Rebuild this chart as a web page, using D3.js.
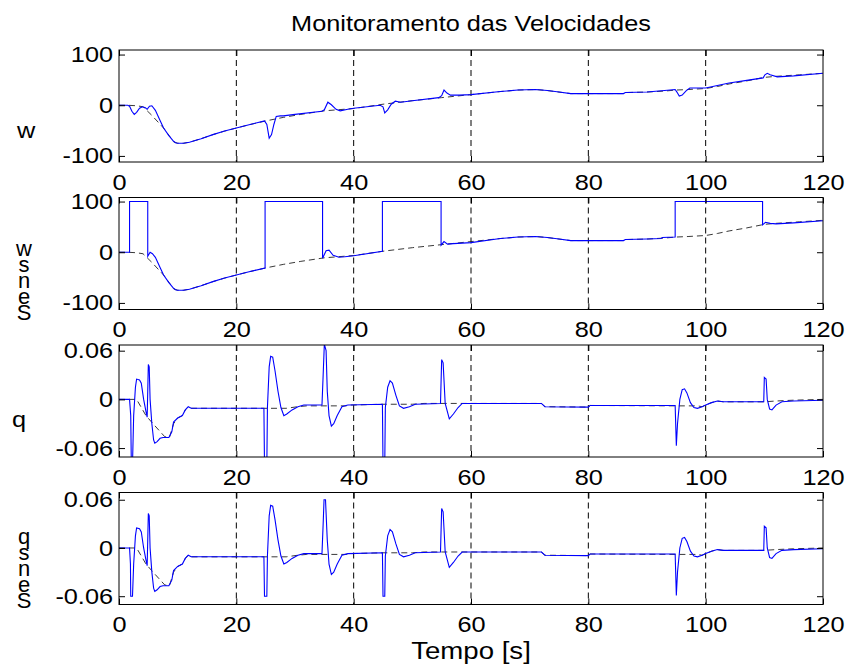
<!DOCTYPE html>
<html>
<head>
<meta charset="utf-8">
<script src="https://d3js.org/d3.v7.min.js"></script>
<style>
html, body { margin: 0; background: #fff; }
svg { display: block; }
text { font-family: "Liberation Sans", Arial, sans-serif; fill: #000; }
.meas { fill: none; stroke: #0000ff; stroke-width: 1.1; }
.ref { fill: none; stroke: #222; stroke-width: 0.9; stroke-dasharray: 6,4; }
.grid { stroke: #000; stroke-width: 1; stroke-dasharray: 6,4; }
.box { fill: none; stroke: #000; stroke-width: 1; }
.tick line { stroke: #000; }
.vlab { writing-mode: vertical-rl; text-orientation: upright; }
</style>
</head>
<body>
<div id="chart"></div>
<script>

// time [s] , value pairs
var wMeas = [[0,0],[1.5,0],[1.8,-2],[2.2,-12],[2.6,-18],[3,-14],[3.5,-6],[4,-3],[4.5,-5],[4.8,-8],[5.2,-2],[5.6,-1],[6.2,-10],[7,-30],[7.6,-45],[8.5,-60],[9.2,-70],[9.6,-74],[10,-75],[11,-75],[12,-73],[14,-66],[16,-58],[18,-51],[20,-45],[22,-39],[24.8,-31],[25.2,-38],[25.6,-65],[26,-58],[26.4,-38],[26.8,-22],[27.5,-21],[28,-21],[30,-18],[34.6,-12],[35,-9],[35.6,6],[36.2,1],[37,-8],[37.7,-11],[39,-8],[40,-6],[44.5,0],[45,-3],[45.3,-15],[45.8,-9],[46.4,2],[47.1,8],[48,6],[50,9],[54.5,15],[55,19],[55.4,30],[55.9,24],[56.5,20],[58,20],[60,21],[65,27],[68,30],[71,31],[73,29],[75,26],[77,23],[86,23],[86.3,25],[90,26],[93,29],[94.8,31],[95.1,26],[95.5,18],[96,20],[96.7,29],[97.3,34],[100,34],[102,39],[104,44],[107,49],[109.8,54],[110.1,60],[110.5,63],[111,60],[112.2,56],[115,58],[120,63]];

var wRef = [[0,0],[1.4,0],[3,-1],[4.1,-3],[5.6,-20],[7.6,-45],[9.3,-72],[10,-75],[11,-75],[12,-73],[14,-66],[16,-58],[18,-51],[20,-45],[22,-39],[25,-31],[28,-24],[31,-18],[35,-11],[40,-6.5],[45,2],[50,9],[55,15],[60,21],[65,27],[68,30],[71,31],[73,29],[75,26],[77,23],[86,23],[86.3,25],[90,26],[93,28],[95,30],[97,31],[100,33],[102,37],[104,42],[107,48],[110,55],[112,57],[116,60],[120,63]];

var wSens = [[0,0],[1.8,0],[1.8,100],[4.9,100],[4.9,-8],[5.3,0],[5.7,-3],[6.2,-10],[7,-30],[7.6,-45],[8.5,-60],[9.2,-70],[9.6,-74],[10,-75],[11,-75],[12,-73],[14,-66],[16,-58],[18,-51],[20,-45],[22,-39],[24.9,-31],[24.9,100],[34.7,100],[34.7,-12],[35.3,3],[35.8,4],[36.5,-6],[37.5,-10],[38.5,-9],[40,-7],[44.9,2],[44.9,100],[54.9,100],[54.9,14],[55.4,21],[56,16],[57,17],[60,19],[65,27],[68,30],[71,31],[73,29],[75,26],[77,23],[86,23],[86.3,25],[90,26],[92.4,27],[92.6,29],[94.8,30],[94.8,100],[109.7,100],[109.7,54],[110.2,59],[111,57],[112,56],[115,58],[120,62]];

var qMeas = [[0,0],[1.8,0],[2,-0.02],[2.1,-0.08],[2.3,-0.08],[2.5,-0.02],[2.8,0.015],[3,0.025],[3.5,0.024],[3.8,0.02],[4.2,0],[4.6,-0.015],[4.8,-0.022],[4.9,0.01],[5,0.043],[5.15,0.04],[5.3,0],[5.6,-0.03],[5.9,-0.05],[6.1,-0.054],[6.5,-0.052],[7,-0.048],[7.5,-0.047],[8.5,-0.047],[9,-0.04],[9.3,-0.028],[10,-0.023],[10.8,-0.02],[11.3,-0.013],[11.8,-0.009],[12.3,-0.011],[24.7,-0.011],[24.8,-0.08],[25.2,-0.08],[25.3,-0.01],[25.6,0.04],[25.85,0.053],[26.2,0.052],[26.6,0.035],[27.1,0.01],[27.6,-0.01],[28.1,-0.02],[28.6,-0.018],[29.5,-0.013],[30.5,-0.009],[31.5,-0.007],[34.6,-0.007],[34.8,0.03],[35,0.068],[35.3,0.06],[35.5,0.01],[35.8,-0.02],[36.2,-0.033],[36.6,-0.03],[37.2,-0.02],[38,-0.009],[39,-0.007],[44.9,-0.006],[45,-0.08],[45.3,-0.08],[45.4,-0.01],[45.8,0.015],[46.2,0.023],[46.6,0.02],[47.2,0.005],[47.8,-0.008],[48.5,-0.011],[49.5,-0.009],[50.5,-0.006],[54.8,-0.005],[55,0.049],[55.25,0.045],[55.6,-0.005],[56.3,-0.024],[57,-0.018],[57.8,-0.01],[58.5,-0.005],[72,-0.005],[72.6,-0.009],[80,-0.0095],[80.3,-0.0075],[94.8,-0.0075],[95,-0.057],[95.2,-0.03],[95.6,0],[96,0.012],[96.4,0.013],[96.8,0.008],[97.4,-0.004],[98,-0.01],[98.6,-0.011],[99.4,-0.009],[100,-0.007],[101,-0.004],[102,-0.002],[103,-0.003],[109.9,-0.003],[110,0.027],[110.3,0.025],[110.5,0],[110.9,-0.012],[111.3,-0.013],[112,-0.007],[113,-0.003],[115,-0.002],[120,-0.001]];

var qSens = [[0,0],[1.8,0],[1.95,-0.02],[2,-0.06],[2.3,-0.06],[2.5,-0.02],[2.8,0.015],[3,0.025],[3.5,0.024],[3.8,0.02],[4.2,0],[4.6,-0.015],[4.8,-0.022],[4.9,0.01],[5,0.043],[5.15,0.04],[5.3,0],[5.6,-0.03],[5.9,-0.05],[6.1,-0.054],[6.5,-0.052],[7,-0.048],[7.5,-0.047],[8.5,-0.047],[9,-0.04],[9.3,-0.028],[10,-0.023],[10.8,-0.02],[11.3,-0.013],[11.8,-0.009],[12.3,-0.011],[24.7,-0.011],[24.8,-0.06],[25.2,-0.06],[25.3,-0.01],[25.6,0.04],[25.85,0.053],[26.2,0.052],[26.6,0.035],[27.1,0.01],[27.6,-0.01],[28.1,-0.02],[28.6,-0.018],[29.5,-0.013],[30.5,-0.009],[31.5,-0.007],[34.6,-0.007],[34.8,0.03],[34.95,0.06],[35.2,0.06],[35.5,0.01],[35.8,-0.02],[36.2,-0.033],[36.6,-0.03],[37.2,-0.02],[38,-0.009],[39,-0.007],[44.9,-0.006],[45,-0.06],[45.3,-0.06],[45.4,-0.01],[45.8,0.015],[46.2,0.023],[46.6,0.02],[47.2,0.005],[47.8,-0.008],[48.5,-0.011],[49.5,-0.009],[50.5,-0.006],[54.8,-0.005],[55,0.049],[55.25,0.045],[55.6,-0.005],[56.3,-0.024],[57,-0.018],[57.8,-0.01],[58.5,-0.005],[72,-0.005],[72.6,-0.009],[80,-0.0095],[80.3,-0.0075],[94.8,-0.0075],[95,-0.059],[95.2,-0.03],[95.6,0],[96,0.012],[96.4,0.013],[96.8,0.008],[97.4,-0.004],[98,-0.01],[98.6,-0.011],[99.4,-0.009],[100,-0.007],[101,-0.004],[102,-0.002],[103,-0.003],[109.9,-0.003],[110,0.027],[110.3,0.025],[110.5,0],[110.9,-0.012],[111.3,-0.013],[112,-0.007],[113,-0.003],[115,-0.002],[120,-0.001]];

var qRef = [[0,0],[3,0],[4.6,-0.02],[5.8,-0.03],[7.8,-0.046],[8.6,-0.047],[9.3,-0.03],[10,-0.023],[10.8,-0.02],[11.3,-0.013],[11.8,-0.009],[12.3,-0.011],[28.5,-0.011],[30.5,-0.009],[32,-0.008],[38.7,-0.008],[39.5,-0.007],[45,-0.006],[50,-0.006],[52,-0.005],[72,-0.005],[72.6,-0.009],[80,-0.0095],[80.3,-0.0075],[95,-0.008],[98.6,-0.008],[99.4,-0.009],[100,-0.007],[101,-0.004],[102,-0.002],[103,-0.003],[110,-0.003],[112,-0.002],[115,-0.001],[120,0]];

var xTicks = [0, 20, 40, 60, 80, 100, 120];
var wTicks = [-100, 0, 100];
var qTicks = [-0.06, 0, 0.06];
var qTickLabels = ["-0.06", "0", "0.06"];

var title = "Monitoramento das Velocidades",
    xTitle = "Tempo [s]";

var width = 848, height = 671,
    left = 119, right = 823,
    ph = 112,
    k = 1.15;   // the picture's text is a bit wide

var svg = d3.select("#chart").append("svg")
    .attr("width", width)
    .attr("height", height);

var x = d3.scaleLinear().domain([0, 120]).range([left, right]);

function stretch(sel) {
  sel.attr("transform", function() {
    var tx = +this.getAttribute("x") || 0;
    return "translate(" + tx + ",0) scale(" + k + ",1) translate(" + (-tx) + ",0)";
  });
}

var panels = [
  {top: 50,    dom: [-112, 109],      ticks: wTicks, fmt: String, ref: wRef, meas: wMeas, label: "w", lx: 17, ly: 138},
  {top: 197.5, dom: [-113, 108],      ticks: wTicks, fmt: String, ref: wRef, meas: wSens, label: "wsneS", lx: 24, ly: 236, vert: true},
  {top: 345,   dom: [-0.071, 0.067],  ticks: qTicks, fmt: function(d, i) { return qTickLabels[i]; }, ref: qRef, meas: qMeas, label: "q", lx: 12, ly: 427},
  {top: 492.5, dom: [-0.0703, 0.069], ticks: qTicks, fmt: function(d, i) { return qTickLabels[i]; }, ref: qRef, meas: qSens, label: "qsneS", lx: 24, ly: 524, vert: true}
];

panels.forEach(function(p, n) {
  var y = d3.scaleLinear().domain(p.dom).range([p.top + ph, p.top]);
  var g = svg.append("g");

  svg.append("clipPath").attr("id", "clip" + n)
    .append("rect")
      .attr("x", left).attr("y", p.top)
      .attr("width", right - left).attr("height", ph);

  // vertical grid only
  g.selectAll("line.grid")
      .data(xTicks.slice(1, -1))
    .enter().append("line")
      .attr("class", "grid")
      .attr("x1", x).attr("x2", x)
      .attr("y1", p.top).attr("y2", p.top + ph);

  var line = d3.line()
      .x(function(d) { return x(d[0]); })
      .y(function(d) { return y(d[1]); });

  var plot = g.append("g").attr("clip-path", "url(#clip" + n + ")");
  plot.append("path").attr("class", "ref").attr("d", line(p.ref));
  plot.append("path").attr("class", "meas").attr("d", line(p.meas));

  // axes, ticks inside like matlab
  var ya = g.append("g")
      .attr("transform", "translate(" + left + ",0)")
      .call(d3.axisLeft(y).tickValues(p.ticks).tickFormat(p.fmt).tickSize(-6).tickPadding(6));
  g.append("g")
      .attr("transform", "translate(" + right + ",0)")
      .call(d3.axisRight(y).tickValues(p.ticks).tickFormat("").tickSize(-6));
  var xa = g.append("g")
      .attr("transform", "translate(0," + (p.top + ph) + ")")
      .call(d3.axisBottom(x).tickValues(xTicks).tickSize(-6).tickPadding(12));
  g.append("g")
      .attr("transform", "translate(0," + p.top + ")")
      .call(d3.axisTop(x).tickValues(xTicks).tickFormat("").tickSize(-6));

  g.selectAll(".domain").remove();
  g.selectAll(".tick text")
      .style("font-family", "'Liberation Sans', Arial, sans-serif")
      .style("font-size", "22px");
  stretch(ya.selectAll("text"));
  stretch(xa.selectAll("text"));

  g.append("rect")
      .attr("class", "box")
      .attr("x", left).attr("y", p.top)
      .attr("width", right - left).attr("height", ph);

  // y label; the sensor ones come out as upright stacked letters in the original
  var lab = g.append("text")
      .attr("x", p.lx)
      .attr("y", p.ly)
      .style("font-size", "22px")
      .text(p.label);
  if (p.vert) {
    lab.attr("class", "vlab").style("letter-spacing", "-9px");
  } else {
    stretch(lab);
  }
});

var t1 = svg.append("text")
    .attr("x", 471).attr("y", 31)
    .attr("text-anchor", "middle")
    .style("font-size", "22px")
    .text(title);
stretch(t1);

var t2 = svg.append("text")
    .attr("x", 471).attr("y", 659)
    .attr("text-anchor", "middle")
    .style("font-size", "24px")
    .text(xTitle);
stretch(t2);

</script>
</body>
</html>
